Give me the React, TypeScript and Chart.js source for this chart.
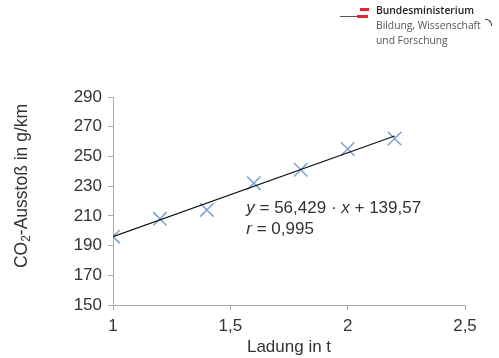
import React, { useEffect, useRef } from "react";
import { Chart, registerables } from "chart.js";
Chart.register(...registerables);

const loads: number[] = [1, 1.2, 1.4, 1.6, 1.8, 2.0, 2.2];
const co2: number[] = [196, 208, 214, 232, 241, 255, 262];
const slope = 56.429;
const intercept = 139.57;
const fitX: number[] = [1, 2.2];
const eqLine1 = ["y", " = 56,429 · ", "x", " + 139,57"];
const eqLine2 = ["r", " = 0,995"];
const eqAnchor = { x: 1.568, y: 215 };
const yTitleParts = ["CO", "2", "-Ausstoß in g/km"];
const xTitle = "Ladung in t";

const FONT = "'Liberation Sans', Arial, Helvetica, sans-serif";
const TEXT = "#333";

const textPlugin = {
  id: "texts",
  afterDatasetsDraw(chart: any) {
    const { ctx, scales } = chart;
    const px = scales.x.getPixelForValue(eqAnchor.x);
    const py = scales.y.getPixelForValue(eqAnchor.y);
    ctx.save();
    ctx.fillStyle = TEXT;
    ctx.textBaseline = "middle";
    const drawParts = (parts: string[], y: number) => {
      let x = px;
      parts.forEach((p, i) => {
        const italic = i % 2 === 0;
        ctx.font = `${italic ? "italic " : ""}17px ${FONT}`;
        ctx.fillText(p, x, y);
        x += ctx.measureText(p).width;
      });
    };
    drawParts(eqLine1, py);
    drawParts(eqLine2, py + 21);

    // y axis title with subscript
    const big = `17.5px ${FONT}`;
    const small = `12px ${FONT}`;
    ctx.font = big;
    const w0 = ctx.measureText(yTitleParts[0]).width;
    const w2 = ctx.measureText(yTitleParts[2]).width;
    ctx.font = small;
    const w1 = ctx.measureText(yTitleParts[1]).width;
    const total = w0 + w1 + w2;
    const cy = (scales.y.top + scales.y.bottom) / 2 - 15;
    ctx.translate(22, cy);
    ctx.rotate(-Math.PI / 2);
    ctx.textBaseline = "middle";
    let x = -total / 2;
    ctx.font = big;
    ctx.fillText(yTitleParts[0], x, 0);
    x += w0;
    ctx.font = small;
    ctx.fillText(yTitleParts[1], x, 5);
    x += w1;
    ctx.font = big;
    ctx.fillText(yTitleParts[2], x, 0);
    ctx.restore();
  },
};

export default function App() {
  const ref = useRef<HTMLCanvasElement>(null);
  useEffect(() => {
    document.body.style.margin = "0";
    const chart = new Chart(ref.current!, {
      type: "scatter",
      data: {
        datasets: [
          {
            type: "line",
            data: fitX.map((x) => ({ x, y: slope * x + intercept })),
            borderColor: "#111",
            borderWidth: 1.2,
            pointRadius: 0,
            fill: false,
          } as any,
          {
            data: loads.map((x, i) => ({ x, y: co2[i] })),
            pointStyle: "crossRot",
            pointRadius: 9.5,
            borderColor: "#7ba3d6",
            backgroundColor: "#7ba3d6",
            pointBorderWidth: 1.5,
            borderWidth: 1.5,
          },
        ],
      },
      options: {
        animation: false,
        responsive: false,
        plugins: { legend: { display: false }, tooltip: { enabled: false } },
        layout: { padding: { left: 0, top: 97, right: 34, bottom: 0 } },
        scales: {
          x: {
            type: "linear",
            min: 1,
            max: 2.5,
            afterFit: (s: any) => { s.height = 53; },
            ticks: {
              stepSize: 0.5,
              color: TEXT,
              font: { family: FONT, size: 17 },
              padding: 6,
              callback: (v: any) => String(v).replace(".", ","),
            },
            grid: { drawOnChartArea: false, drawTicks: true, tickLength: 5, color: "#aaa" },
            border: { color: "#aaa" },
            title: {
              display: true,
              text: xTitle,
              color: TEXT,
              font: { family: FONT, size: 17 },
              padding: { top: 0, bottom: 0 },
            },
          },
          y: {
            min: 150,
            max: 290,
            afterFit: (s: any) => { s.width = 113; },
            ticks: {
              stepSize: 20,
              color: TEXT,
              font: { family: FONT, size: 17 },
              padding: 6,
            },
            grid: { drawOnChartArea: false, drawTicks: true, tickLength: 5, color: "#aaa" },
            border: { color: "#aaa" },
          },
        },
      },
      plugins: [textPlugin],
    } as any);
    return () => chart.destroy();
  }, []);

  const logoFont = "'Open Sans', 'Noto Sans', sans-serif";
  return (
    <div style={{ position: "relative", width: 499, height: 358 }}>
      <canvas ref={ref} width={499} height={358} style={{ position: "absolute", left: 0, top: 0 }} />
      <div style={{ position: "absolute", left: 340, top: 16, width: 17, height: 1, background: "#555" }} />
      <div style={{ position: "absolute", left: 360, top: 8, width: 9, height: 3, background: "#e3262b" }} />
      <div style={{ position: "absolute", left: 357, top: 15, width: 11, height: 3, background: "#e3262b" }} />
      <div style={{ position: "absolute", left: 376, top: 3, fontFamily: logoFont, fontSize: 10.3, lineHeight: "15px", color: "#555" }}>
        <div style={{ fontWeight: 600, color: "#222" }}>Bundesministerium</div>
        <div>Bildung, Wissenschaft</div>
        <div>und Forschung</div>
      </div>
      <div style={{ position: "absolute", left: 485, top: 19, width: 6, height: 6, borderTop: "1.5px solid #333", borderRight: "1.5px solid #333", borderTopRightRadius: 6 }} />
    </div>
  );
}
